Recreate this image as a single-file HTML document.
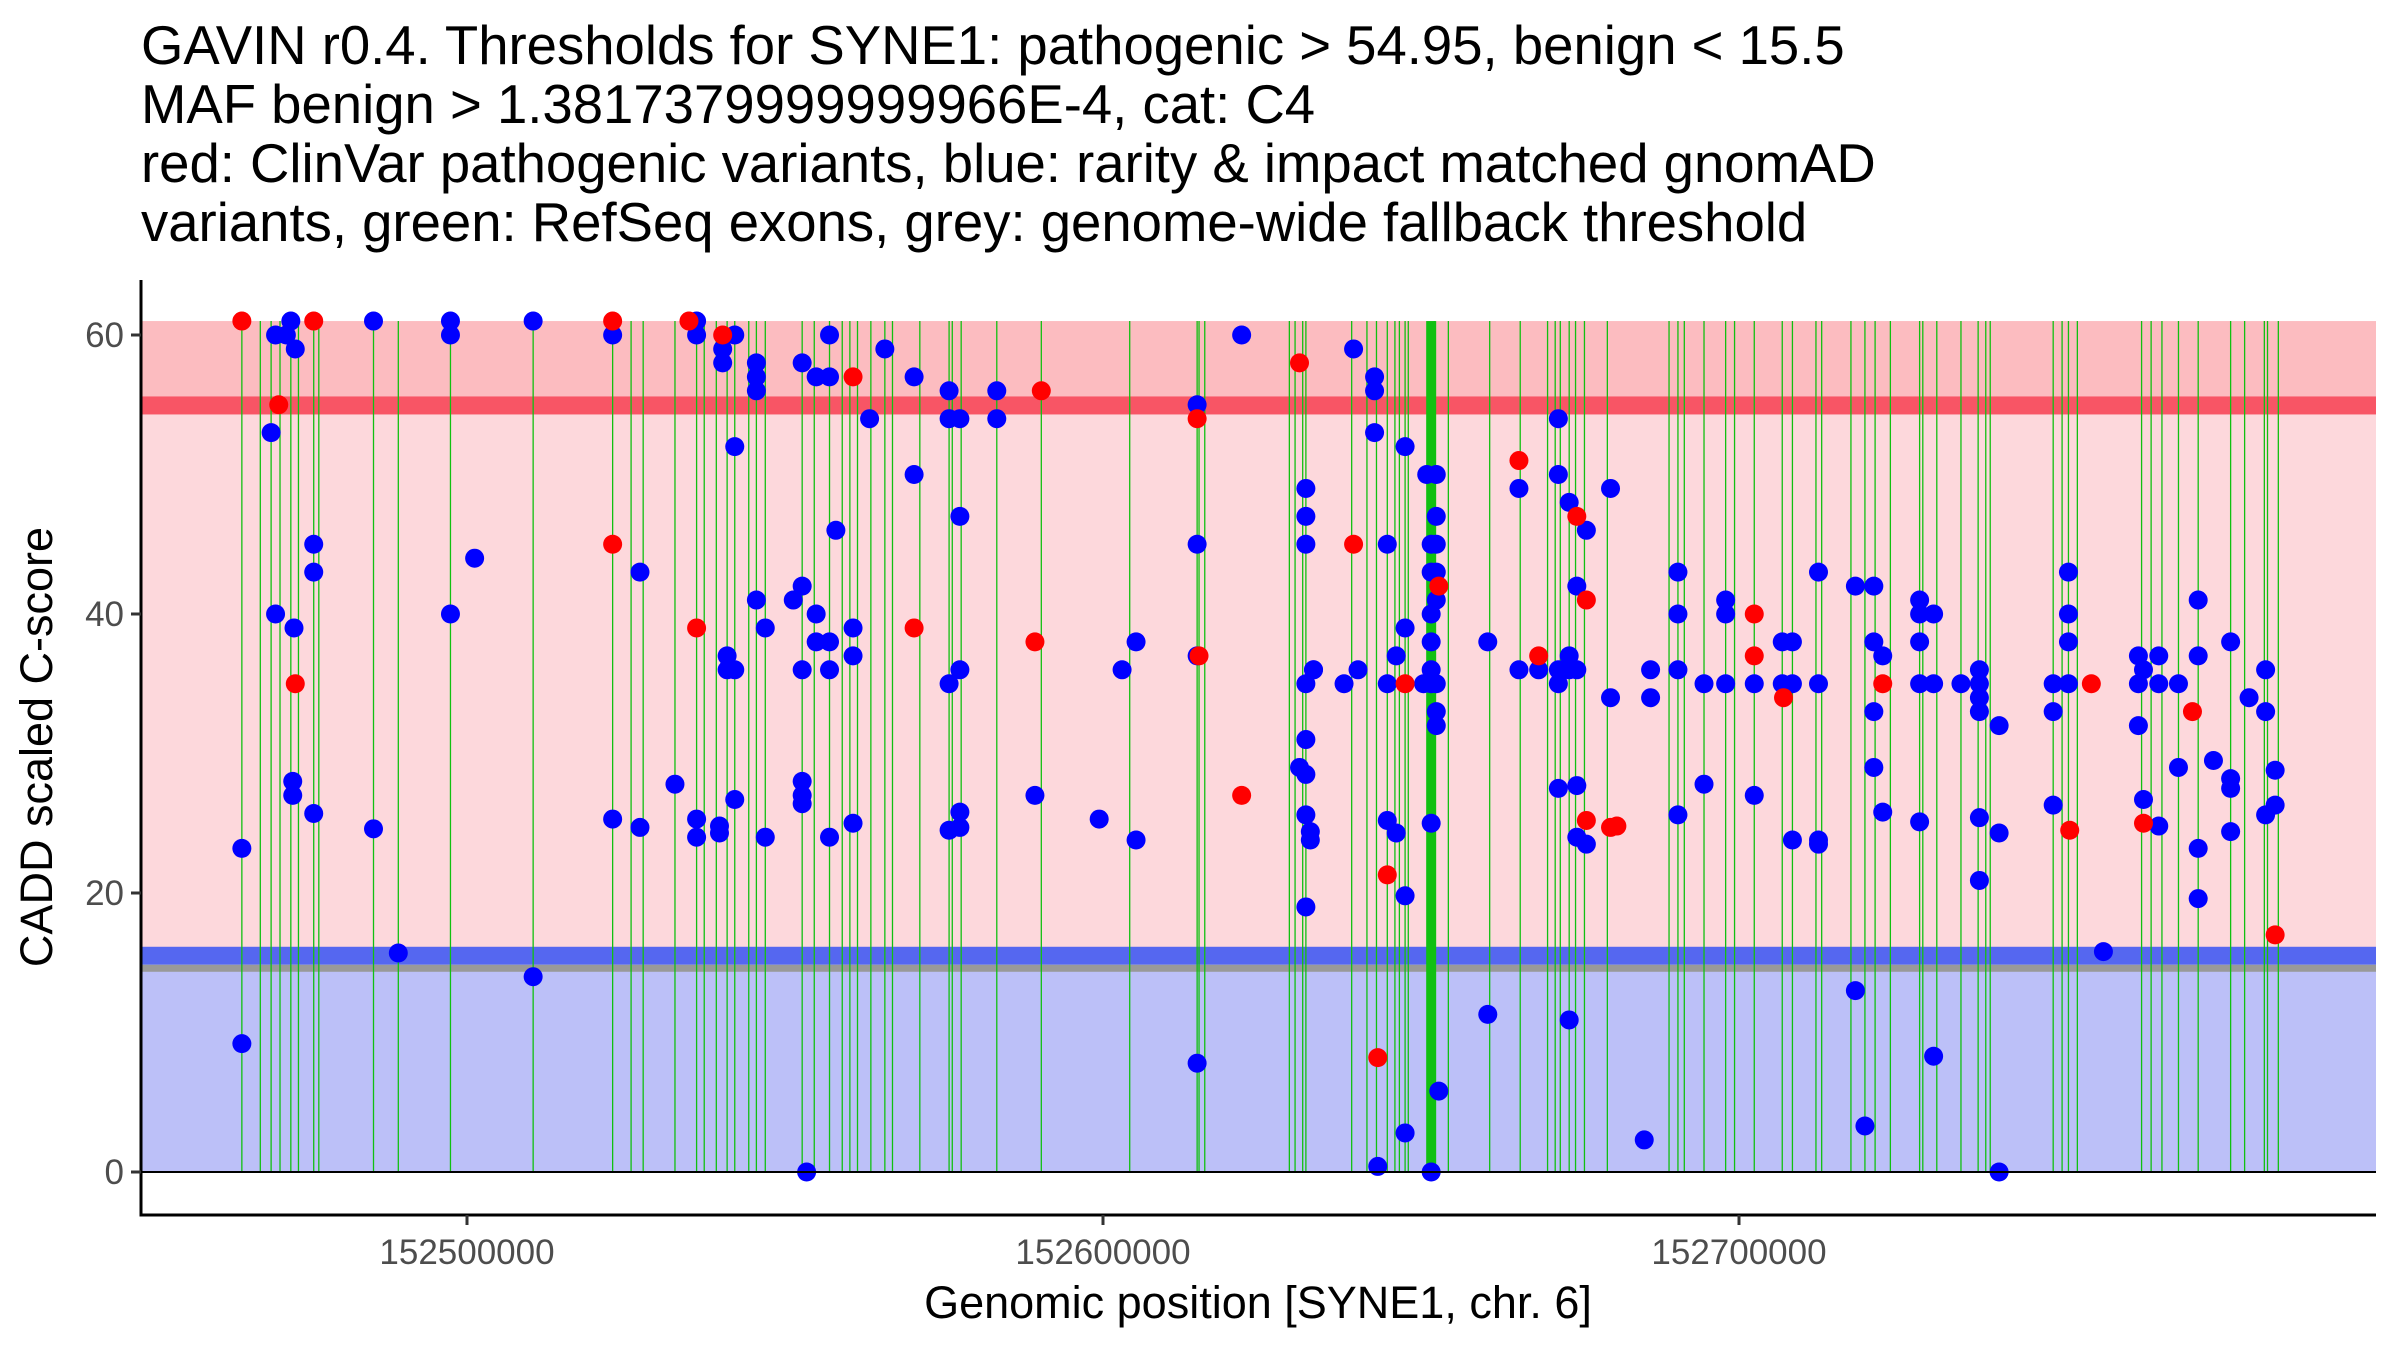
<!DOCTYPE html>
<html><head><meta charset="utf-8">
<style>
html,body{margin:0;padding:0;background:#fff;}
svg{display:block;font-family:"Liberation Sans",Arial,sans-serif;}
</style></head>
<body>
<svg id="chart" width="2400" height="1350" viewBox="0 0 2400 1350" xmlns="http://www.w3.org/2000/svg">
<g font-size="54.5" fill="#000">
<text x="141" y="64">GAVIN r0.4. Thresholds for SYNE1: pathogenic &gt; 54.95, benign &lt; 15.5</text>
<text x="141" y="123">MAF benign &gt; 1.3817379999999966E-4, cat: C4</text>
<text x="141" y="182">red: ClinVar pathogenic variants, blue: rarity &amp; impact matched gnomAD</text>
<text x="141" y="241">variants, green: RefSeq exons, grey: genome-wide fallback threshold</text>
</g>
<g id="bands"></g>
<g id="exons"></g>
<g id="points"></g>
<g id="axes"></g>
<text x="1258" y="1318" font-size="45" text-anchor="middle">Genomic position [SYNE1, chr. 6]</text>
<text transform="translate(52,747) rotate(-90)" font-size="45" text-anchor="middle">CADD scaled C-score</text>
</svg>
<script>
const yTicks=[0,20,40,60];
const xTicks=[152500000,152600000,152700000];
const xTickLabels=["152500000","152600000","152700000"];
const thresholds={pathogenic:54.95,benign:15.5,fallback:14.5,top:61};
const exonKb=[152464.6,152467.5,152469.2,152470.6,152472.3,152473.5,152475.9,152476.7,152485.3,152489.2,152497.4,152510.4,152522.9,152525.8,152527.7,152532.7,152536.1,152537.3,152539.2,152540.9,152542.1,152544.3,152545.5,152546.9,152552.7,152554.6,152557.0,152559.0,152560.2,152561.4,152563.5,152565.7,152566.9,152571.2,152575.8,152576.3,152577.7,152583.3,152590.3,152604.2,152614.8,152615.1,152616.0,152629.3,152630.2,152631.4,152631.9,152639.1,152641.5,152643.0,152644.7,152645.9,152646.6,152647.5,152648.0,152652.1,152654.3,152660.8,152665.6,152669.9,152671.1,152671.9,152673.3,152674.3,152675.7,152679.3,152689.0,152690.4,152691.4,152694.5,152697.9,152699.3,152702.4,152706.8,152708.4,152712.1,152713.0,152717.6,152719.8,152721.4,152723.8,152728.4,152728.9,152731.1,152734.9,152737.6,152738.8,152739.5,152749.4,152750.8,152751.8,152753.2,152763.3,152764.8,152766.5,152769.1,152772.2,152777.3,152779.5,152782.6,152783.1,152784.8];
const thickExonKb=[152651.6];
const redPos=[152464.6,152470.4,152473.0,152475.9,152522.9,152522.9,152534.9,152536.1,152540.2,152560.7,152570.3,152590.3,152589.3,152614.8,152615.1,152621.8,152630.9,152639.4,152643.2,152644.7,152647.5,152652.8,152665.4,152668.5,152674.5,152676.0,152676.0,152679.8,152680.8,152702.4,152702.4,152707.0,152722.6,152752.0,152755.4,152763.6,152771.3,152784.3];
const redScore=[61,55,35,61,61,45,61,39,60,57,39,56,38,54,37,27,58,45,8.2,21.3,35,42,51,37,47,41,25.2,24.7,24.8,40,37,34,35,24.5,35,25,33,17];
const blue=[[152464.6,[23.2,9.2]],[152469.2,[53]],[152469.9,[60,40]],[152471.6,[60]],[152472.3,[61]],[152473.0,[59]],[152472.8,[39]],[152472.6,[28,27]],[152475.9,[45,43,25.7]],
[152485.3,[61,24.6]],[152489.2,[15.7]],[152497.4,[61,60,40]],[152501.2,[44]],[152510.4,[61,14]],[152522.9,[60,25.3]],[152527.2,[43,24.7]],[152532.7,[27.8]],
[152536.1,[61,60,25.3,24]],[152539.7,[24.3,24.8]],[152540.2,[59,58]],[152540.9,[37,36]],[152542.1,[60,52,36,26.7]],[152545.5,[58,57,56,41]],[152546.9,[39,24]],
[152551.3,[41]],[152552.7,[58,42,36,28,27,26.4]],[152553.4,[0]],[152554.9,[57,40,38]],[152557.0,[60,57,38,36,24]],[152558.0,[46]],[152560.7,[39,37,25]],
[152563.3,[54]],[152565.7,[59]],[152570.3,[57,50]],[152575.8,[56,54,35,24.5]],[152577.5,[54,47,36,25.8,24.7]],[152583.3,[56,54]],[152589.3,[27]],
[152599.4,[25.3]],[152603.0,[36]],[152605.2,[38,23.8]],[152614.8,[55,45,37,7.8]],[152621.8,[60]],[152630.9,[29]],[152631.9,[49,47,45,35,31,28.5,25.6,19]],
[152632.6,[24.4,23.8]],[152633.1,[36,36]],[152639.4,[59]],[152637.9,[35]],[152640.1,[36]],[152642.7,[57,56,53]],[152643.2,[0.4]],[152644.7,[45,35,25.2]],
[152646.1,[37,24.3]],[152647.5,[52,39,19.8,2.8]],[152650.4,[35]],[152650.9,[50]],[152651.6,[45,43,40,38,36,35,25,0]],[152652.4,[50,47,45,43,41,35,33,32]],
[152652.8,[5.8]],[152660.5,[38,11.3]],[152665.4,[49,36]],[152668.5,[36]],[152671.6,[54,50,36,35,27.5]],[152673.3,[48,37,36,10.9]],[152674.5,[42,36,27.7,24]],
[152676.0,[46,23.5]],[152679.8,[49,34]],[152685.1,[2.3]],[152686.1,[36,34]],[152690.4,[43,40,36,25.6]],[152694.5,[35,27.8]],[152697.9,[41,40,35]],
[152702.4,[35,27]],[152706.8,[38,35]],[152708.4,[38,35,23.8]],[152712.5,[43,35,23.8,23.5]],[152718.3,[42,13]],[152719.8,[3.3]],[152721.2,[42,38,33,29]],
[152722.6,[37,25.8]],[152728.4,[41,40,38,35,25.1]],[152730.6,[40,35,8.3]],[152734.9,[35]],[152737.8,[36,35,34,33,25.4,20.9]],[152740.9,[32,24.3,0]],
[152749.4,[35,33,26.3]],[152751.8,[43,40,38,35]],[152757.3,[15.8]],[152762.8,[37,35,32]],[152763.6,[36,26.7]],[152766.0,[37,35,24.8]],[152769.1,[35,29]],
[152772.2,[41,37,23.2,19.6]],[152774.6,[29.5]],[152777.3,[38,28.2,27.5,24.4]],[152780.2,[34]],[152782.8,[36,33,25.6]],[152784.3,[28.8,26.3]]];

const NS="http://www.w3.org/2000/svg";
const L=141,R=2376,T=280,B=1215;
function xs(bp){return 467+(bp-152500000)/100000*636;}
function ys(v){return 1172-v*13.95;}
function mk(tag,attrs,parent){const e=document.createElementNS(NS,tag);for(const k in attrs)e.setAttribute(k,attrs[k]);document.getElementById(parent).appendChild(e);return e;}

let e;
e=mk('rect',{x:L,y:ys(thresholds.top),width:R-L,height:ys(thresholds.pathogenic)-ys(thresholds.top),fill:'#fcbcc0'},'bands');

e=mk('rect',{x:L,y:ys(thresholds.pathogenic),width:R-L,height:ys(thresholds.benign)-ys(thresholds.pathogenic),fill:'#fdd8dc'},'bands');

e=mk('rect',{x:L,y:ys(thresholds.fallback),width:R-L,height:ys(0)-ys(thresholds.fallback),fill:'#bcc0f8'},'bands');

e=mk('rect',{x:L,y:ys(thresholds.pathogenic)-9,width:R-L,height:18,fill:'#f85565'},'bands');

e=mk('rect',{x:L,y:ys(thresholds.benign)-9,width:R-L,height:18,fill:'#5567f0'},'bands');

e=mk('rect',{x:L,y:ys(thresholds.benign)+9,width:R-L,height:7,fill:'#999999'},'bands');


exonKb.forEach(k=>{const x=xs(k*1000);
 e=mk('line',{x1:x,x2:x,y1:ys(thresholds.top),y2:ys(0),stroke:'#11c011','stroke-width':1.3},'exons');
 });
thickExonKb.forEach(k=>{const x=xs(k*1000);
 e=mk('rect',{x:x-5,y:ys(thresholds.top),width:10,height:ys(0)-ys(thresholds.top),fill:'#11c011'},'exons');
 });

blue.forEach(([k,ss])=>ss.forEach(s=>{
 e=mk('circle',{cx:xs(k*1000),cy:ys(s),r:9.5,fill:'#0000ff'},'points');
 }));
redPos.forEach((k,i)=>{
 e=mk('circle',{cx:xs(k*1000),cy:ys(redScore[i]),r:9.5,fill:'#ff0000'},'points');
 });

e=mk('line',{x1:L,x2:R,y1:ys(0),y2:ys(0),stroke:'#000','stroke-width':2},'axes');

e=mk('line',{x1:L,x2:L,y1:T,y2:B+1.5,stroke:'#000','stroke-width':3},'axes');

e=mk('line',{x1:L-1.5,x2:R,y1:B,y2:B,stroke:'#000','stroke-width':3},'axes');

yTicks.forEach(v=>{
 e=mk('line',{x1:L-10,x2:L,y1:ys(v),y2:ys(v),stroke:'#333','stroke-width':3},'axes');
 
 e=mk('text',{x:L-17,y:ys(v)+12,'font-size':35,fill:'#4d4d4d','text-anchor':'end'},'axes');
 e.textContent=String(v);
 });
xTicks.forEach((v,i)=>{
 e=mk('line',{x1:xs(v),x2:xs(v),y1:B,y2:B+10,stroke:'#333','stroke-width':3},'axes');
 
 e=mk('text',{x:xs(v),y:B+49,'font-size':35,fill:'#4d4d4d','text-anchor':'middle'},'axes');
 e.textContent=xTickLabels[i];
 });
</script>
</body></html>
